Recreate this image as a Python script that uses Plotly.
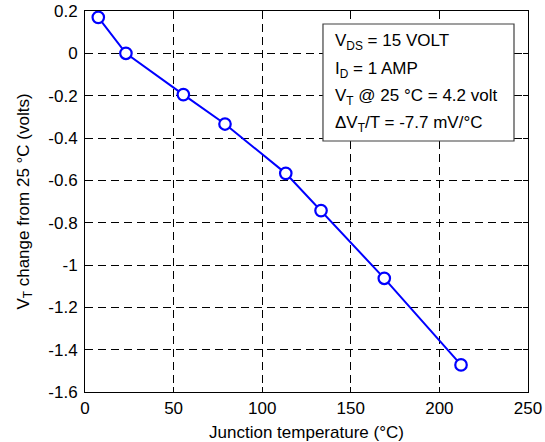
import plotly.graph_objects as go

temps = [7.5, 23.1, 55.5, 79.0, 113.3, 133.2, 168.9, 212.2]
vt_change = [0.170, 0.0, -0.195, -0.334, -0.567, -0.743, -1.063, -1.472]
x_ticks = [0, 50, 100, 150, 200, 250]
y_ticks = [0.2, 0, -0.2, -0.4, -0.6, -0.8, -1, -1.2, -1.4, -1.6]
y_tick_labels = ["0.2", "0", "-0.2", "-0.4", "-0.6", "-0.8", "-1", "-1.2", "-1.4", "-1.6"]
info_lines = [
    "V<sub>DS</sub> = 15 VOLT",
    "I<sub>D</sub> = 1 AMP",
    "V<sub>T</sub> @ 25 °C = 4.2 volt",
    "ΔV<sub>T</sub>/T = -7.7 mV/°C",
]

FONT = "Liberation Sans, Arial, sans-serif"
FS = 17

fig = go.Figure()
fig.add_trace(go.Scatter(
    x=temps, y=vt_change, mode="lines+markers",
    line=dict(color="#0000FF", width=2),
    marker=dict(symbol="circle", size=11.5, color="white",
                line=dict(color="#0000FF", width=2.2)),
    showlegend=False, cliponaxis=False,
))

axis_common = dict(
    showline=True, linecolor="black", linewidth=1, mirror="allticks",
    ticks="inside", ticklen=5, tickcolor="black",
    showgrid=True, gridcolor="black", griddash="8px,5px", gridwidth=1,
    zeroline=False, tickfont=dict(family=FONT, size=FS, color="black"),
    automargin=False,
)

fig.update_xaxes(range=[0, 250], tickvals=x_ticks, ticklabelstandoff=1,
                 title=dict(text="Junction temperature (°C)", font=dict(family=FONT, size=FS, color="black"), standoff=8),
                 **axis_common)
fig.update_yaxes(range=[-1.6, 0.2], tickvals=y_ticks, ticktext=y_tick_labels, ticklabelstandoff=3,
                 title=dict(text="V<sub>T</sub> change from 25 °C (volts)", font=dict(family=FONT, size=FS, color="black"), standoff=14),
                 **axis_common)

# info box
fig.add_shape(type="rect", xref="paper", yref="paper",
              x0=0.5372, x1=0.9684, y0=0.6588, y1=0.9659,
              line=dict(color="#404040", width=1.2), fillcolor="white", layer="above")
line_y = [0.9186, 0.8451, 0.7743, 0.7047]
for txt, yy in zip(info_lines, line_y):
    fig.add_annotation(
        x=0.5598, y=yy, xref="paper", yref="paper", xanchor="left", yanchor="middle",
        text=txt, showarrow=False, align="left",
        font=dict(family=FONT, size=FS, color="black"),
    )

fig.update_layout(
    width=545, height=442,
    margin=dict(l=85, r=17, t=11, b=50),
    paper_bgcolor="white", plot_bgcolor="white",
    font=dict(family=FONT, color="black"),
)

fig.write_html("out.html", config={"displayModeBar": False},
               post_script="document.body.style.margin='0';document.body.style.overflow='hidden';")
